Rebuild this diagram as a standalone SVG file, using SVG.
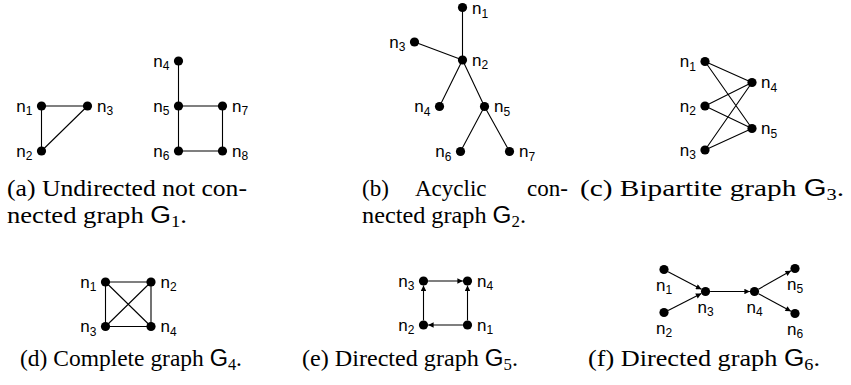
<svg xmlns="http://www.w3.org/2000/svg" width="851" height="385" viewBox="0 0 851 385">
<style>
.e{stroke:#000;stroke-width:1.1;fill:none}
.a{stroke:#000;stroke-width:1.1;fill:none;marker-end:url(#arr)}
circle{fill:#000}
.l{font-family:"Liberation Sans",Arial,sans-serif;font-size:17px;fill:#000}
.ls{font-size:12px}
.cap{font-family:"Liberation Serif","Times New Roman",serif;font-size:23px;fill:#000}
.sf{font-family:"Liberation Sans",Arial,sans-serif}
.cs{font-size:16px}
</style>
<defs>
<marker id="arr" viewBox="0 0 10 10" refX="10" refY="5" markerWidth="7" markerHeight="5.5" orient="auto" markerUnits="userSpaceOnUse"><path d="M0,0 L10,5 L0,10 z" fill="#000"/></marker>
</defs>
<g id="connectors">
<path class="e" d="M41.5,106 L87.5,106 M41.5,106 L41.5,151 M41.5,151 L87.5,106"/>
<path class="e" d="M178.5,61 L178.5,151 M178.5,106 L222.5,106 L222.5,151 L178.5,151"/>
<path class="e" d="M462.5,7.5 L462.5,60 M414.5,42 L462.5,60 M462.5,60 L439.5,106.5 M462.5,60 L484.5,106.5 L460.5,151.5 M484.5,106.5 L509.5,151.5"/>
<path class="e" d="M705,61.5 L752,82.5 M705,61.5 L752,128.5 M705,106 L752,82.5 M705,106 L752,128.5 M705,150 L752,82.5 M705,150 L752,128.5"/>
<path class="e" d="M105.5,282 L151,282 L151,326.5 L105.5,326.5 Z M105.5,282 L151,326.5 M151,282 L105.5,326.5"/>
<path class="a" d="M428.1,281 L462.9,281"/>
<path class="a" d="M423.5,320.4 L423.5,285.6"/>
<path class="a" d="M467.5,320.4 L467.5,285.6"/>
<path class="a" d="M462.9,325 L428.1,325"/>
<path class="a" d="M668.06,271.65 L701.44,289.35"/>
<path class="a" d="M668.1,310.42 L701.4,293.58"/>
<path class="a" d="M710.1,291.5 L749.9,291.5"/>
<path class="a" d="M758.5,289.23 L791,270.77"/>
<path class="a" d="M758.54,293.7 L790.96,311.3"/>
</g>
<g id="a-n1"><circle cx="41.5" cy="106" r="4.6"/><text class="l" x="32.5" y="111.5" text-anchor="end">n<tspan class="ls" dy="3.5">1</tspan></text></g>
<g id="a-n2"><circle cx="41.5" cy="151" r="4.6"/><text class="l" x="32.5" y="156.5" text-anchor="end">n<tspan class="ls" dy="3.5">2</tspan></text></g>
<g id="a-n3"><circle cx="87.5" cy="106" r="4.6"/><text class="l" x="97" y="111.5">n<tspan class="ls" dy="3.5">3</tspan></text></g>
<g id="a-n4"><circle cx="178.5" cy="61" r="4.6"/><text class="l" x="169.5" y="66.5" text-anchor="end">n<tspan class="ls" dy="3.5">4</tspan></text></g>
<g id="a-n5"><circle cx="178.5" cy="106" r="4.6"/><text class="l" x="169.5" y="111.5" text-anchor="end">n<tspan class="ls" dy="3.5">5</tspan></text></g>
<g id="a-n6"><circle cx="178.5" cy="151" r="4.6"/><text class="l" x="169.5" y="156.5" text-anchor="end">n<tspan class="ls" dy="3.5">6</tspan></text></g>
<g id="a-n7"><circle cx="222.5" cy="106" r="4.6"/><text class="l" x="232" y="111.5">n<tspan class="ls" dy="3.5">7</tspan></text></g>
<g id="a-n8"><circle cx="222.5" cy="151" r="4.6"/><text class="l" x="232" y="156.5">n<tspan class="ls" dy="3.5">8</tspan></text></g>
<g id="b-n1"><circle cx="462.5" cy="7.5" r="4.6"/><text class="l" x="472" y="14">n<tspan class="ls" dy="3.5">1</tspan></text></g>
<g id="b-n2"><circle cx="462.5" cy="60" r="4.6"/><text class="l" x="472" y="65.5">n<tspan class="ls" dy="3.5">2</tspan></text></g>
<g id="b-n3"><circle cx="414.5" cy="42" r="4.6"/><text class="l" x="405.5" y="47.5" text-anchor="end">n<tspan class="ls" dy="3.5">3</tspan></text></g>
<g id="b-n4"><circle cx="439.5" cy="106.5" r="4.6"/><text class="l" x="430.5" y="112" text-anchor="end">n<tspan class="ls" dy="3.5">4</tspan></text></g>
<g id="b-n5"><circle cx="484.5" cy="106.5" r="4.6"/><text class="l" x="494" y="112">n<tspan class="ls" dy="3.5">5</tspan></text></g>
<g id="b-n6"><circle cx="460.5" cy="151.5" r="4.6"/><text class="l" x="451.5" y="157" text-anchor="end">n<tspan class="ls" dy="3.5">6</tspan></text></g>
<g id="b-n7"><circle cx="509.5" cy="151.5" r="4.6"/><text class="l" x="519" y="157">n<tspan class="ls" dy="3.5">7</tspan></text></g>
<g id="c-n1"><circle cx="705" cy="61.5" r="4.6"/><text class="l" x="696" y="67" text-anchor="end">n<tspan class="ls" dy="3.5">1</tspan></text></g>
<g id="c-n2"><circle cx="705" cy="106" r="4.6"/><text class="l" x="696" y="111.5" text-anchor="end">n<tspan class="ls" dy="3.5">2</tspan></text></g>
<g id="c-n3"><circle cx="705" cy="150" r="4.6"/><text class="l" x="696" y="155.5" text-anchor="end">n<tspan class="ls" dy="3.5">3</tspan></text></g>
<g id="c-n4"><circle cx="752" cy="82.5" r="4.6"/><text class="l" x="761" y="88">n<tspan class="ls" dy="3.5">4</tspan></text></g>
<g id="c-n5"><circle cx="752" cy="128.5" r="4.6"/><text class="l" x="761" y="134">n<tspan class="ls" dy="3.5">5</tspan></text></g>
<g id="d-n1"><circle cx="105.5" cy="282" r="4.6"/><text class="l" x="96.5" y="287.5" text-anchor="end">n<tspan class="ls" dy="3.5">1</tspan></text></g>
<g id="d-n2"><circle cx="151" cy="282" r="4.6"/><text class="l" x="160.5" y="287.5">n<tspan class="ls" dy="3.5">2</tspan></text></g>
<g id="d-n3"><circle cx="105.5" cy="326.5" r="4.6"/><text class="l" x="96.5" y="332" text-anchor="end">n<tspan class="ls" dy="3.5">3</tspan></text></g>
<g id="d-n4"><circle cx="151" cy="326.5" r="4.6"/><text class="l" x="160.5" y="332">n<tspan class="ls" dy="3.5">4</tspan></text></g>
<g id="e-n3"><circle cx="423.5" cy="281" r="4.6"/><text class="l" x="414.5" y="286.5" text-anchor="end">n<tspan class="ls" dy="3.5">3</tspan></text></g>
<g id="e-n4"><circle cx="467.5" cy="281" r="4.6"/><text class="l" x="477" y="286.5">n<tspan class="ls" dy="3.5">4</tspan></text></g>
<g id="e-n2"><circle cx="423.5" cy="325" r="4.6"/><text class="l" x="414.5" y="330.5" text-anchor="end">n<tspan class="ls" dy="3.5">2</tspan></text></g>
<g id="e-n1"><circle cx="467.5" cy="325" r="4.6"/><text class="l" x="477" y="330.5">n<tspan class="ls" dy="3.5">1</tspan></text></g>
<g id="f-n1"><circle cx="664" cy="269.5" r="4.6"/><text class="l" x="664" y="290.5" text-anchor="middle">n<tspan class="ls" dy="3.5">1</tspan></text></g>
<g id="f-n2"><circle cx="664" cy="312.5" r="4.6"/><text class="l" x="664" y="333.5" text-anchor="middle">n<tspan class="ls" dy="3.5">2</tspan></text></g>
<g id="f-n3"><circle cx="705.5" cy="291.5" r="4.6"/><text class="l" x="705.5" y="312.5" text-anchor="middle">n<tspan class="ls" dy="3.5">3</tspan></text></g>
<g id="f-n4"><circle cx="754.5" cy="291.5" r="4.6"/><text class="l" x="754.5" y="312.5" text-anchor="middle">n<tspan class="ls" dy="3.5">4</tspan></text></g>
<g id="f-n5"><circle cx="795" cy="268.5" r="4.6"/><text class="l" x="795" y="289.5" text-anchor="middle">n<tspan class="ls" dy="3.5">5</tspan></text></g>
<g id="f-n6"><circle cx="795" cy="313.5" r="4.6"/><text class="l" x="795" y="334.5" text-anchor="middle">n<tspan class="ls" dy="3.5">6</tspan></text></g>
<g id="captions">
<text class="cap" x="7" y="196" textLength="240" lengthAdjust="spacingAndGlyphs">(a) Undirected not con-</text>
<text class="cap" x="7" y="223" textLength="180" lengthAdjust="spacingAndGlyphs">nected graph <tspan class="sf">G</tspan><tspan class="cs" dy="4">1</tspan><tspan dy="-4">.</tspan></text>
<text class="cap" y="196"><tspan x="362">(b)</tspan><tspan x="415">Acyclic</tspan><tspan x="527">con-</tspan></text>
<text class="cap" x="362" y="223" textLength="164" lengthAdjust="spacingAndGlyphs">nected graph <tspan class="sf">G</tspan><tspan class="cs" dy="4">2</tspan><tspan dy="-4">.</tspan></text>
<text class="cap" x="580" y="196" textLength="264" lengthAdjust="spacingAndGlyphs">(c) Bipartite graph <tspan class="sf">G</tspan><tspan class="cs" dy="4">3</tspan><tspan dy="-4">.</tspan></text>
<text class="cap" x="20" y="366" textLength="222" lengthAdjust="spacingAndGlyphs">(d) Complete graph <tspan class="sf">G</tspan><tspan class="cs" dy="4">4</tspan><tspan dy="-4">.</tspan></text>
<text class="cap" x="302" y="366" textLength="216" lengthAdjust="spacingAndGlyphs">(e) Directed graph <tspan class="sf">G</tspan><tspan class="cs" dy="4">5</tspan><tspan dy="-4">.</tspan></text>
<text class="cap" x="588" y="366" textLength="232" lengthAdjust="spacingAndGlyphs">(f) Directed graph <tspan class="sf">G</tspan><tspan class="cs" dy="4">6</tspan><tspan dy="-4">.</tspan></text>
</g>
</svg>
